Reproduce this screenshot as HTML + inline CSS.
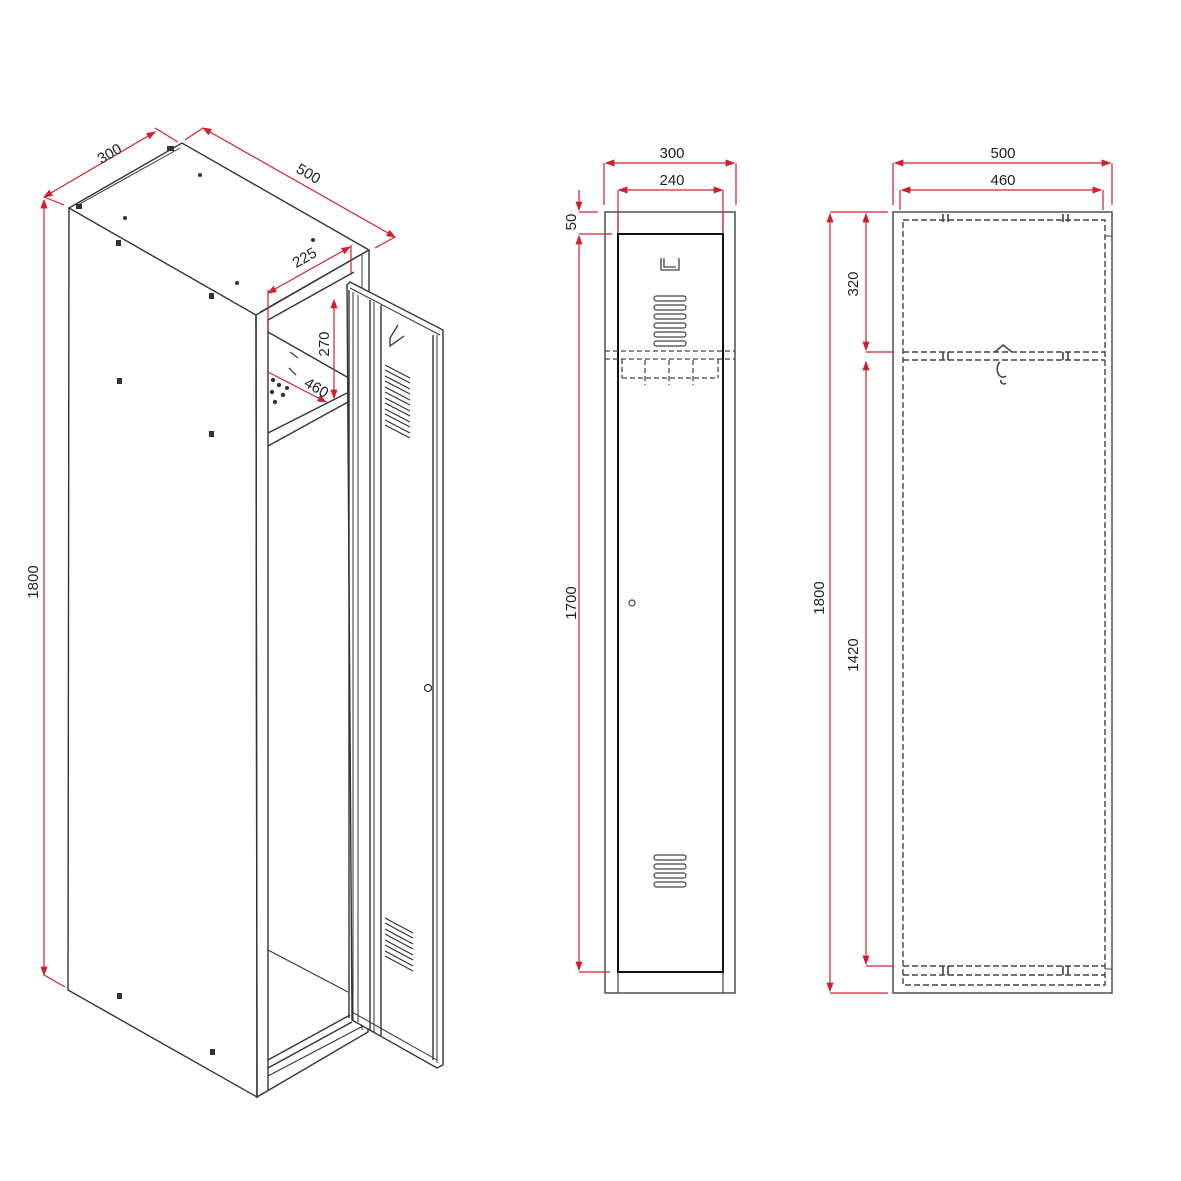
<!DOCTYPE html>
<html><head><meta charset="utf-8"><style>
html,body{margin:0;padding:0;background:#fff}
svg{display:block}
text{font-family:"Liberation Sans",Arial,sans-serif;font-size:15px;fill:#222}
</style></head><body>
<svg width="1181" height="1181" viewBox="0 0 1181 1181" xmlns="http://www.w3.org/2000/svg">
<defs>
<marker id="a" markerWidth="8" markerHeight="6" refX="7" refY="3" orient="auto-start-reverse"><path d="M0,0 L8,3 L0,6z" fill="#d02030"/></marker>
</defs>
<rect width="1181" height="1181" fill="#fff"/>

<!-- ================= ISOMETRIC ================= -->
<g stroke="#333" stroke-width="1.4" fill="none">
  <!-- top face -->
  <path d="M69,208 L182,143 L369,250 L256,315 Z" fill="#fff"/>
  <path d="M76,206 L180,148" stroke-width="1"/>
  <!-- left side -->
  <path d="M69,208 L68,990 L257,1097 L256,315"/>
  <!-- front frame -->
  <path d="M256,315 L257,1097 L368,1032 L369,250"/>
  <path d="M268,320 L268,1090"/>
  <path d="M268,320 L354,272"/>
  <path d="M260,312 L365,252" stroke-width="1"/>
  <path d="M362,255 L362,1030" stroke-width="1"/>
  <!-- shelf -->
  <path d="M268,332 L347,377"/>
  <path d="M268,433 L347,393"/>
  <path d="M268,446 L348,402"/>
  <!-- bottom inside -->
  <path d="M268,950 L348,992" stroke-width="1"/>
  <path d="M268,1060 L350,1015"/>
  <path d="M268,1068 L352,1022"/>
  <path d="M268,1076 L365,1025" stroke-width="1"/>
  <!-- door -->
  <path d="M347,285 L350,282 L443,330 L443,1065 L437,1068 L352,1020 Z" fill="#fff"/>
  <path d="M349,290 L349,1018"/>
  <path d="M353,292 L353,1020" stroke-width="1"/>
  <path d="M358,295 L358,1022" stroke-width="1"/>
  <path d="M370,300 L370,1030"/>
  <path d="M374,302 L374,1032" stroke-width="1"/>
  <path d="M381,305 L381,1036"/>
  <path d="M433,335 L433,1060"/>
  <path d="M437,335 L437,1063" stroke-width="1"/>
  <path d="M350,288 L440,335" stroke-width="1"/>
  <path d="M352,1012 L437,1060" stroke-width="1"/>
  <!-- door louvres top -->
  <g stroke-width="1.2">
    <path d="M385,365 L410,378 M385,370 L410,383"/>
    <path d="M385,376 L410,389 M385,381 L410,394"/>
    <path d="M385,387 L410,400 M385,392 L410,405"/>
    <path d="M385,398 L410,411 M385,403 L410,416"/>
    <path d="M385,409 L410,422 M385,414 L410,427"/>
    <path d="M385,420 L410,433 M385,425 L410,438"/>
    <path d="M385,918 L413,933 M385,923 L413,938"/>
    <path d="M385,929 L413,944 M385,934 L413,949"/>
    <path d="M385,940 L413,955 M385,945 L413,960"/>
    <path d="M385,951 L413,966 M385,956 L413,971"/>
  </g>
  <path d="M398,325 L390,338 L390,346 L404,336" stroke-width="1.3"/>
  <circle cx="428" cy="688" r="3.5" stroke-width="1.3"/>
</g>
<!-- screws / holes -->
<g fill="#333">
  <circle cx="200" cy="175" r="2"/><circle cx="125" cy="218" r="2"/><circle cx="237" cy="283" r="2"/><circle cx="313" cy="240" r="2"/>
  <rect x="116" y="240" width="5" height="6"/><rect x="209" y="293" width="5" height="6"/>
  <rect x="117" y="378" width="5" height="6"/><rect x="209" y="431" width="5" height="6"/>
  <rect x="117" y="993" width="5" height="6"/><rect x="210" y="1049" width="5" height="6"/>
  <circle cx="273" cy="380" r="2.2"/><circle cx="279" cy="385" r="2.2"/><circle cx="272" cy="392" r="2.2"/><circle cx="283" cy="395" r="2.2"/><circle cx="275" cy="402" r="2.2"/><circle cx="287" cy="388" r="2"/>
  <rect x="167" y="146" width="7" height="5"/><rect x="76" y="204" width="6" height="5"/>
</g>
<path d="M290,352 L298,358 M289,368 L296,375" stroke="#444" stroke-width="1.3" fill="none"/>

<!-- isometric dims -->
<g stroke="#d02030" stroke-width="1.2" fill="none">
  <path d="M44,975 L44,200" marker-start="url(#a)" marker-end="url(#a)"/>
  <path d="M44,975 L65,987"/>
  <path d="M44,197 L64,205"/>
  <path d="M44,197 L155,132" marker-start="url(#a)" marker-end="url(#a)"/>
  <path d="M155,128 L178,142"/>
  <path d="M203,128 L395,237" marker-start="url(#a)" marker-end="url(#a)"/>
  <path d="M203,128 L185,140 M395,237 L375,248"/>
  <path d="M268,293 L350,247" marker-start="url(#a)" marker-end="url(#a)"/>
  <path d="M268,290 L268,330 M351,245 L351,275"/>
  <path d="M334,300 L334,398" marker-start="url(#a)" marker-end="url(#a)"/>
  <path d="M268,372 L326,402" marker-end="url(#a)"/>
</g>
<text x="0" y="0" transform="translate(112,158) rotate(-30)" text-anchor="middle">300</text>
<text x="0" y="0" transform="translate(306,178) rotate(30)" text-anchor="middle">500</text>
<text x="0" y="0" transform="translate(307,262) rotate(-30)" text-anchor="middle">225</text>
<text x="0" y="0" transform="translate(329,344) rotate(-90)" text-anchor="middle">270</text>
<text x="0" y="0" transform="translate(314,392) rotate(30)" text-anchor="middle">460</text>
<text x="0" y="0" transform="translate(38,582) rotate(-90)" text-anchor="middle">1800</text>

<!-- ================= FRONT VIEW ================= -->
<g stroke="#444" fill="none">
  <rect x="605" y="212" width="130" height="781" stroke-width="1.4"/>
  <path d="M618,212 L618,993 M723,212 L723,993" stroke-width="1.2"/>
  <rect x="618" y="234" width="105" height="738" stroke="#111" stroke-width="2"/>
  <path d="M661,258 L661,270 L679,270 L679,258 M664,258 L664,267 L676,267" stroke-width="1.3"/>
  <g stroke-width="1.2">
    <rect x="654" y="296" width="32" height="5" rx="2.5"/>
    <rect x="654" y="305" width="32" height="5" rx="2.5"/>
    <rect x="654" y="314" width="32" height="5" rx="2.5"/>
    <rect x="654" y="323" width="32" height="5" rx="2.5"/>
    <rect x="654" y="332" width="32" height="5" rx="2.5"/>
    <rect x="654" y="341" width="32" height="5" rx="2.5"/>
    <rect x="654" y="855" width="32" height="5" rx="2.5"/>
    <rect x="654" y="864" width="32" height="5" rx="2.5"/>
    <rect x="654" y="873" width="32" height="5" rx="2.5"/>
    <rect x="654" y="882" width="32" height="5" rx="2.5"/>
  </g>
  <path d="M605,351 L735,351 M605,359 L735,359 M622,378 L718,378 M622,359 L622,378 M718,359 L718,378 M645,360 L645,385 M669,360 L669,385 M693,360 L693,385" stroke-dasharray="5,3" stroke-width="1.3"/>
  <circle cx="632" cy="603" r="3" stroke-width="1.2"/>
</g>
<g stroke="#d02030" stroke-width="1.2" fill="none">
  <path d="M606,163 L734,163" marker-start="url(#a)" marker-end="url(#a)"/>
  <path d="M604,163 L604,205 M736,163 L736,205"/>
  <path d="M619,190 L722,190" marker-start="url(#a)" marker-end="url(#a)"/>
  <path d="M618,190 L618,230 M723,190 L723,230"/>
  <path d="M579,190 L579,210" marker-end="url(#a)"/>
  <path d="M579,236 L579,970" marker-start="url(#a)" marker-end="url(#a)"/>
  <path d="M579,212 L598,212 M579,234 L612,234 M579,972 L610,972"/>
</g>
<text x="672" y="158" text-anchor="middle">300</text>
<text x="672" y="185" text-anchor="middle">240</text>
<text x="0" y="0" transform="translate(576,222) rotate(-90)" text-anchor="middle">50</text>
<text x="0" y="0" transform="translate(576,603) rotate(-90)" text-anchor="middle">1700</text>

<!-- ================= SIDE VIEW ================= -->
<g stroke="#444" fill="none">
  <rect x="893" y="212" width="219" height="781" stroke-width="1.4"/>
  <path d="M1105,236 L1112,236 M1105,969 L1112,969" stroke-width="1"/>
  <g stroke-dasharray="6,3" stroke-width="1.4">
    <path d="M903,220 L1105,220 L1105,985 L903,985 Z"/>
    <path d="M903,352 L1105,352 M903,360 L1105,360"/>
    <path d="M903,966 L1105,966 M903,975 L1105,975"/>
  </g>
  <g stroke-width="1.6">
    <path d="M943,214 L943,222 M948,214 L948,222 M1063,214 L1063,222 M1068,214 L1068,222"/>
    <path d="M943,352 L943,360 M948,352 L948,360 M1063,352 L1063,360 M1068,352 L1068,360"/>
    <path d="M943,966 L943,975 M948,966 L948,975 M1063,966 L1063,975 M1068,966 L1068,975"/>
    <path d="M995,352 L1003,345 L1012,352 M1000,362 a5,7 0 1,0 6,14 M1001,380 a3,3 0 0,0 5,3"/>
  </g>
</g>
<g stroke="#d02030" stroke-width="1.2" fill="none">
  <path d="M895,163 L1110,163" marker-start="url(#a)" marker-end="url(#a)"/>
  <path d="M893,163 L893,205 M1112,163 L1112,205"/>
  <path d="M902,190 L1101,190" marker-start="url(#a)" marker-end="url(#a)"/>
  <path d="M900,190 L900,210 M1103,190 L1103,210"/>
  <path d="M830,214 L830,991" marker-start="url(#a)" marker-end="url(#a)"/>
  <path d="M830,212 L888,212 M830,993 L888,993"/>
  <path d="M866,214 L866,350" marker-start="url(#a)" marker-end="url(#a)"/>
  <path d="M866,362 L866,964" marker-start="url(#a)" marker-end="url(#a)"/>
  <path d="M866,352 L893,352 M866,966 L893,966"/>
</g>
<text x="1003" y="158" text-anchor="middle">500</text>
<text x="1003" y="185" text-anchor="middle">460</text>
<text x="0" y="0" transform="translate(858,284) rotate(-90)" text-anchor="middle">320</text>
<text x="0" y="0" transform="translate(858,655) rotate(-90)" text-anchor="middle">1420</text>
<text x="0" y="0" transform="translate(824,598) rotate(-90)" text-anchor="middle">1800</text>
</svg>
</body></html>
